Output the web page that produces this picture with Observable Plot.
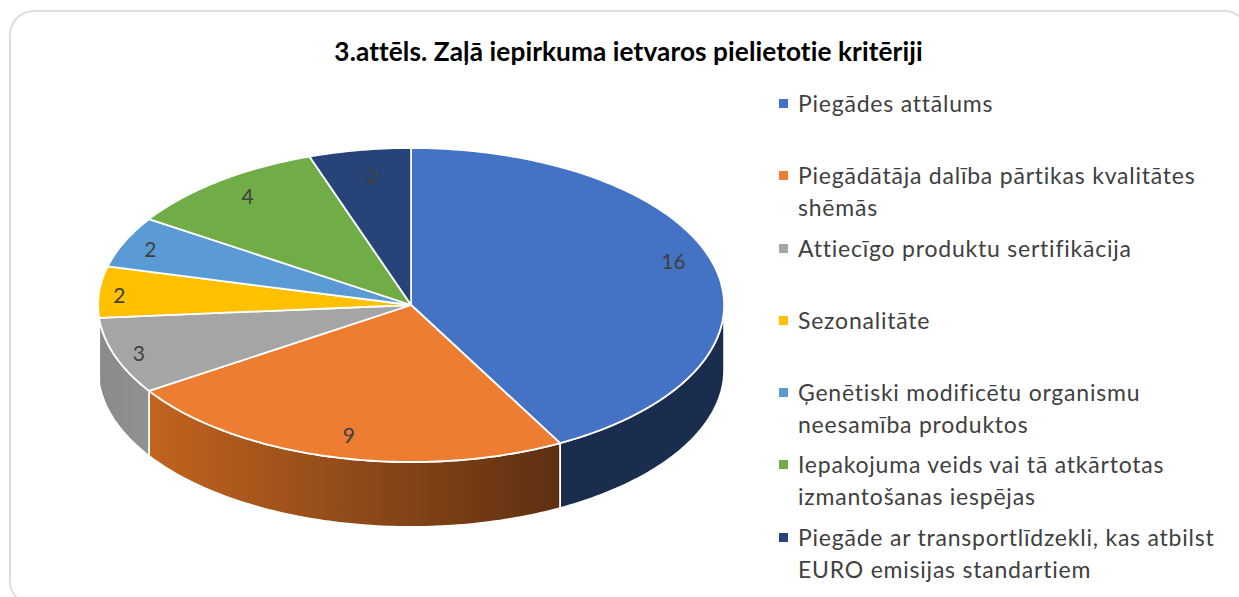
<!DOCTYPE html>
<html lang="lv">
<head>
<meta charset="utf-8">
<script src="https://cdn.jsdelivr.net/npm/d3@7"></script>
<script src="https://cdn.jsdelivr.net/npm/@observablehq/plot@0.6"></script>
<style>
html,body{margin:0;padding:0;background:#fff}
#wrap{position:relative;width:1239px;height:597px;overflow:hidden;font-family:Lato,sans-serif}
#card{position:absolute;left:9px;top:10px;width:1236px;height:592px;border:2px solid #dedede;border-radius:25px;box-sizing:content-box}
#chart{position:absolute;left:0;top:0}
#title{position:absolute;left:0;top:35px;width:1257px;text-align:center;font-weight:700;font-size:26.2px;line-height:32px;color:#000;letter-spacing:.1px}
#legend{position:absolute;left:779px;top:87px;width:450px}
.row{position:relative;height:72.3px;padding-left:19px;font-size:23px;line-height:32px;color:#404040;letter-spacing:.78px;box-sizing:border-box}
.sw{position:absolute;left:0;top:12px;width:9px;height:9px}
.row span.t{white-space:pre-line}
</style>
</head>
<body>
<div id="wrap">
  <div id="card"></div>
  <div id="chart"></div>
  <div id="title"></div>
  <div id="legend"></div>
</div>
<script>
const titleText = "3.attēls. Zaļā iepirkuma ietvaros pielietotie kritēriji";
const categories = [
  "Piegādes attālums",
  "Piegādātāja dalība pārtikas kvalitātes\nshēmās",
  "Attiecīgo produktu sertifikācija",
  "Sezonalitāte",
  "Ģenētiski modificētu organismu\nneesamība produktos",
  "Iepakojuma veids vai tā atkārtotas\nizmantošanas iespējas",
  "Piegāde ar transportlīdzekli, kas atbilst\nEURO emisijas standartiem"
];
const values = [16, 9, 3, 2, 2, 4, 2];
const colors = ["#4472c4", "#ed7d31", "#a5a5a5", "#ffc000", "#5b9bd5", "#70ad47", "#264478"];
// rim colours of the slices that face the viewer
const rimColors = ["#1b2d4e", "url(#rimOrange)", "url(#rimGray)", "url(#rimGray)", null, null, null];
// how far along the mid-angle each number sits, as a share of the two radii
const labelReachX = [0.865, 0.81, 0.92, 0.935, 0.91, 0.85, 0.76];
const labelReachY = [1.13, 0.86, 0.95, 0.74, 0.87, 0.87, 0.83];

// Pie geometry, in units of the ellipse radii (y up)
const depth = 65 / 157;
const pie = d3.pie().sort(null).startAngle(0).endAngle(2 * Math.PI)(values);
const pt = (a, drop = 0) => ({x: Math.sin(a), y: Math.cos(a) - drop});
const arcAngles = (a0, a1) => {
  const n = Math.max(2, Math.ceil((a1 - a0) / (Math.PI / 180)));
  return d3.range(n + 1).map(i => a0 + (a1 - a0) * i / n);
};

const topPoints = pie.flatMap((s, i) => [
  {x: 0, y: 0},
  ...arcAngles(s.startAngle, s.endAngle).map(a => pt(a)),
  {x: 0, y: 0}
].map(p => ({...p, category: categories[i]})));

const rimMarks = pie.flatMap((s, i) => {
  const a0 = Math.max(s.startAngle, Math.PI / 2), a1 = Math.min(s.endAngle, 3 * Math.PI / 2);
  if (a1 <= a0 || !rimColors[i]) return [];
  const as = arcAngles(a0, a1);
  const poly = [...as.map(a => pt(a)), ...as.slice().reverse().map(a => pt(a, depth)), pt(a0)];
  return [Plot.line(poly, {x: "x", y: "y", fill: rimColors[i], stroke: "white", strokeWidth: 1.8, strokeLinejoin: "round"})];
});

const labels = pie.map((s, i) => {
  const m = (s.startAngle + s.endAngle) / 2;
  return {x: Math.sin(m) * labelReachX[i], y: Math.cos(m) * labelReachY[i], text: String(values[i])};
});

const gradients = () => {
  const svgNS = "http://www.w3.org/2000/svg";
  const defs = document.createElementNS(svgNS, "defs");
  defs.innerHTML = `
    <linearGradient id="rimOrange" x1="0" x2="1" y1="0" y2="0">
      <stop offset="0" stop-color="#c1641f"/><stop offset="1" stop-color="#5e3012"/>
    </linearGradient>
    <linearGradient id="rimGray" x1="0" x2="1" y1="0" y2="0">
      <stop offset="0" stop-color="#8a8a8a"/><stop offset="1" stop-color="#919191"/>
    </linearGradient>`;
  return defs;
};

const chart = Plot.plot({
  width: 1239, height: 597, margin: 0,
  style: {background: "transparent", overflow: "visible"},
  x: {axis: null, domain: [-410.6 / 313, 828.4 / 313], range: [0, 1239]},
  y: {axis: null, domain: [304.5 / 157, -292.5 / 157], range: [0, 597]},
  color: {domain: categories, range: colors},
  marks: [
    gradients,
    ...rimMarks,
    Plot.line(topPoints, {x: "x", y: "y", z: "category", fill: "category", stroke: "white", strokeWidth: 1.8, strokeLinejoin: "round"}),
    Plot.text(labels, {x: "x", y: "y", dy: 0.5, text: "text", fill: "#404040", fontSize: 21, fontFamily: "Lato, sans-serif"})
  ]
});
document.getElementById("chart").append(chart);
document.getElementById("title").textContent = titleText;

const legend = document.getElementById("legend");
categories.forEach((c, i) => {
  const row = document.createElement("div"); row.className = "row";
  const sw = document.createElement("div"); sw.className = "sw"; sw.style.background = colors[i];
  const t = document.createElement("span"); t.className = "t"; t.textContent = c;
  row.append(sw, t); legend.append(row);
});
</script>
</body>
</html>
